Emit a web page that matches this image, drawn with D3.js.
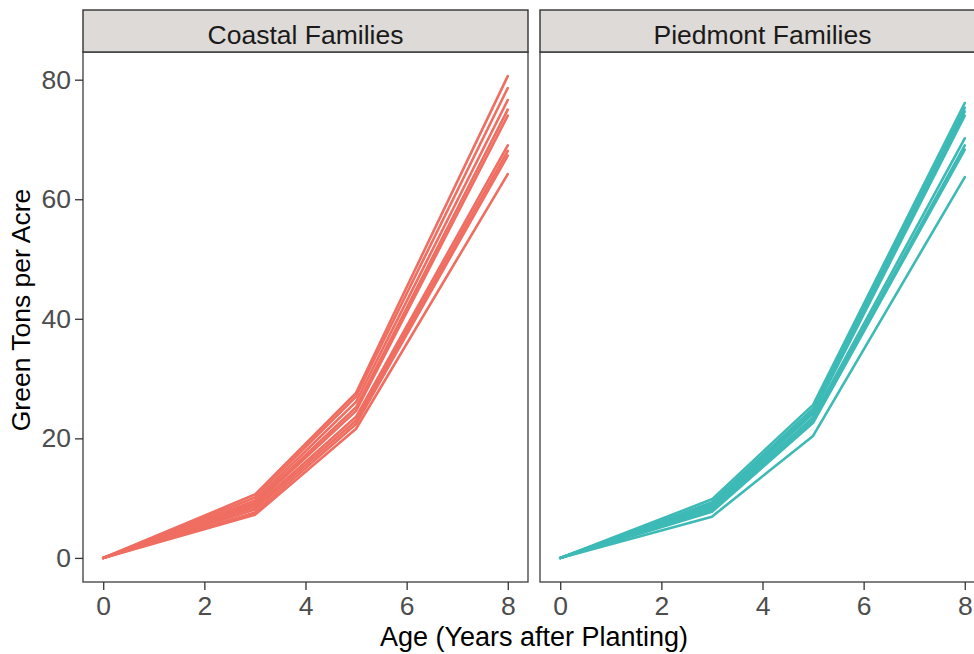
<!DOCTYPE html>
<html>
<head>
<meta charset="utf-8">
<script src="https://cdn.jsdelivr.net/npm/d3@7/dist/d3.min.js"></script>
<style>
  html, body { margin: 0; padding: 0; background: #fff; }
  svg { display: block; font-family: "Liberation Sans", Arial, sans-serif; }
</style>
</head>
<body>
<svg id="chart" width="974" height="654"></svg>
<script>
// Measurement ages (years after planting)
const ages = [0, 3, 5, 8];

// Green tons per acre for each coastal family, one array per family
const coastalFamilies = [
  [0, 10.6, 27.6, 80.6],
  [0, 10.1, 27.0, 78.6],
  [0, 9.6, 26.1, 76.6],
  [0, 9.2, 25.2, 75.0],
  [0, 8.9, 24.6, 74.0],
  [0, 8.5, 23.6, 69.0],
  [0, 8.1, 23.0, 68.1],
  [0, 7.6, 22.4, 67.3],
  [0, 7.2, 21.6, 64.2]
];

// Green tons per acre for each piedmont family
const piedmontFamilies = [
  [0, 9.8, 25.6, 76.1],
  [0, 9.3, 25.0, 75.3],
  [0, 9.0, 24.5, 74.7],
  [0, 8.7, 24.1, 74.0],
  [0, 8.4, 23.5, 70.2],
  [0, 8.0, 23.0, 69.0],
  [0, 7.7, 22.6, 68.3],
  [0, 6.9, 20.4, 63.7]
];

const panelNames = ["Coastal Families", "Piedmont Families"];
const panelColors = ["#EF6E61", "#3DBAB6"];
const xTicks = [0, 2, 4, 6, 8];
const yTicks = [0, 20, 40, 60, 80];

const svg = d3.select("#chart");

const stripTop = 10, stripH = 42;
const panelTop = stripTop + stripH, panelBottom = 582;
const panelX = [83, 540];
const panelW = 445;

// ggplot-style 5% expansion on both axes
const allVals = coastalFamilies.concat(piedmontFamilies).flat();
const yMin = d3.min(allVals), yMax = d3.max(allVals);
const yPad = (yMax - yMin) * 0.05;
const y = d3.scaleLinear().domain([yMin - yPad, yMax + yPad]).range([panelBottom, panelTop]);
const xPad = (d3.max(ages) - d3.min(ages)) * 0.05;

const groups = [coastalFamilies, piedmontFamilies];

groups.forEach((fams, i) => {
  const left = panelX[i];
  const x = d3.scaleLinear().domain([d3.min(ages) - xPad, d3.max(ages) + xPad]).range([left, left + panelW]);
  const g = svg.append("g");

  // family growth curves
  const line = d3.line().x((d, k) => x(ages[k])).y(d => y(d));
  g.selectAll("path.family")
    .data(fams)
    .join("path")
    .attr("class", "family")
    .attr("d", line)
    .attr("fill", "none")
    .attr("stroke", panelColors[i])
    .attr("stroke-width", 2.6)
    .attr("stroke-linejoin", "round")
    .attr("stroke-linecap", "round");

  // panel border
  g.append("rect")
    .attr("x", left).attr("y", panelTop)
    .attr("width", panelW).attr("height", panelBottom - panelTop)
    .attr("fill", "none").attr("stroke", "#4a4a4a").attr("stroke-width", 1.4);

  // facet strip
  g.append("rect")
    .attr("x", left).attr("y", stripTop)
    .attr("width", panelW).attr("height", stripH)
    .attr("fill", "#DEDAD7").attr("stroke", "#333").attr("stroke-width", 1.4);
  g.append("text")
    .attr("x", left + panelW / 2).attr("y", stripTop + 34)
    .attr("text-anchor", "middle")
    .attr("font-size", 26.5).attr("fill", "#1a1a1a")
    .text(panelNames[i]);

  // x axis
  const xAxis = g.append("g")
    .attr("transform", `translate(0,${panelBottom})`)
    .call(d3.axisBottom(x).tickValues(xTicks).tickSize(8).tickPadding(6).tickFormat(d3.format("d")));
  xAxis.select(".domain").remove();
  xAxis.selectAll(".tick line").attr("stroke", "#333").attr("stroke-width", 1.3);
  xAxis.selectAll(".tick text").attr("font-size", 26.5).attr("fill", "#4d4d4d")
    .attr("font-family", "Liberation Sans, Arial, sans-serif");

  // y axis only on first panel
  if (i === 0) {
    const yAxis = g.append("g")
      .attr("transform", `translate(${left},0)`)
      .call(d3.axisLeft(y).tickValues(yTicks).tickSize(8).tickPadding(4));
    yAxis.select(".domain").remove();
    yAxis.selectAll(".tick line").attr("stroke", "#333").attr("stroke-width", 1.3);
    yAxis.selectAll(".tick text").attr("font-size", 26.5).attr("fill", "#4d4d4d")
      .attr("font-family", "Liberation Sans, Arial, sans-serif");
  }
});

// axis titles
svg.append("text")
  .attr("x", (panelX[0] + panelX[1] + panelW) / 2).attr("y", 646)
  .attr("text-anchor", "middle").attr("font-size", 27).attr("fill", "#000")
  .text("Age (Years after Planting)");

svg.append("text")
  .attr("transform", `translate(30,310) rotate(-90)`)
  .attr("text-anchor", "middle").attr("font-size", 26.5).attr("fill", "#000")
  .text("Green Tons per Acre");
</script>
</body>
</html>
